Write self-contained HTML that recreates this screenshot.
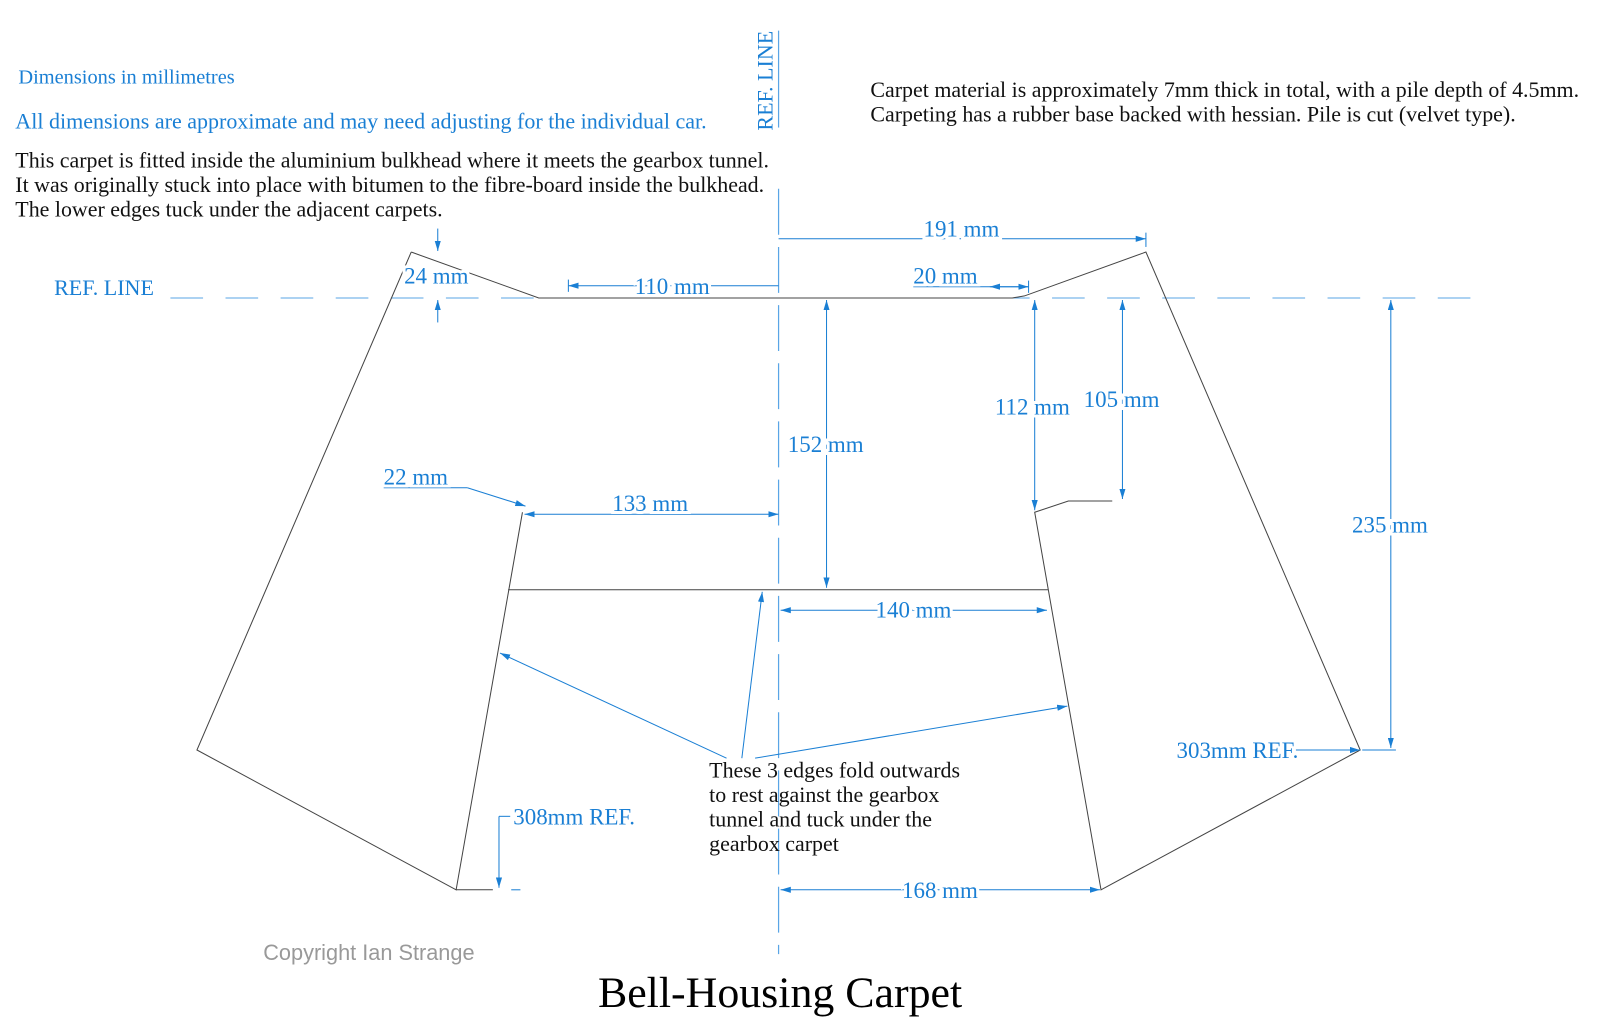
<!DOCTYPE html>
<html><head><meta charset="utf-8"><style>
body{margin:0;background:#fff;}
svg{display:block;}
text{font-family:"Liberation Serif",serif;}
.b{fill:#1a7fd4;font-size:21.6px;}
.d{fill:#1a7fd4;font-size:22.5px;stroke:#fff;stroke-width:6px;paint-order:stroke;}
.k{fill:#111;font-size:21.5px;}
</style></head><body>
<svg width="1600" height="1030" viewBox="0 0 1568 1009.4" xmlns="http://www.w3.org/2000/svg">
<defs>
<marker id="a" viewBox="0 0 10 6" refX="10" refY="3" markerWidth="10" markerHeight="6" orient="auto-start-reverse" markerUnits="userSpaceOnUse"><path d="M0,0 L10,3 L0,6z" fill="#1a7fd4"/></marker>
</defs>
<line x1="167" y1="292" x2="1450" y2="292" stroke="#5aa5e6" stroke-width="1" stroke-dasharray="32,22"/>
<line x1="763" y1="185" x2="763" y2="935" stroke="#5aa5e6" stroke-width="1.2" stroke-dasharray="45,12"/>
<line x1="763" y1="30" x2="763" y2="125" stroke="#5aa5e6" stroke-width="1.2"/>
<g fill="none" stroke="#444" stroke-width="1">
<path d="M403,247 L528,292 L992,292 L1004,290 L1123,247 L1333,735 L1079,872 L1014,502 L1047,491 L1090,491"/>
<path d="M403,247 L193,735 L447,872 L512,502"/>
<line x1="498" y1="578" x2="1027" y2="578"/>
<line x1="447" y1="872" x2="483" y2="872"/>
</g>
<g stroke="#1a7fd4" stroke-width="1" fill="none">
<line x1="429" y1="224" x2="429" y2="246" marker-end="url(#a)"/>
<line x1="429" y1="316" x2="429" y2="294" marker-end="url(#a)"/>
<line x1="557" y1="274" x2="557" y2="286"/>
<line x1="763" y1="280" x2="557" y2="280" marker-end="url(#a)"/>
<line x1="763" y1="234" x2="1123" y2="234" marker-end="url(#a)"/>
<line x1="1123" y1="228" x2="1123" y2="242"/>
<line x1="895" y1="281" x2="1008" y2="281"/>
<line x1="970" y1="281" x2="990" y2="281" marker-start="url(#a)"/>
<line x1="990" y1="281" x2="1008" y2="281" marker-end="url(#a)"/>
<line x1="1008" y1="275" x2="1008" y2="287"/>
<line x1="810" y1="294" x2="810" y2="576" marker-start="url(#a)" marker-end="url(#a)"/>
<line x1="1014" y1="294" x2="1014" y2="500" marker-start="url(#a)" marker-end="url(#a)"/>
<line x1="1100" y1="294" x2="1100" y2="489" marker-start="url(#a)" marker-end="url(#a)"/>
<line x1="1363" y1="294" x2="1363" y2="733" marker-start="url(#a)" marker-end="url(#a)"/>
<line x1="1335" y1="735" x2="1368" y2="735"/>
<line x1="1270" y1="735" x2="1333" y2="735" marker-end="url(#a)"/>
<line x1="376" y1="478" x2="458" y2="478"/>
<line x1="458" y1="478" x2="515" y2="496" marker-end="url(#a)"/>
<line x1="514" y1="504" x2="763" y2="504" marker-start="url(#a)" marker-end="url(#a)"/>
<line x1="765" y1="598" x2="1026" y2="598" marker-start="url(#a)" marker-end="url(#a)"/>
<line x1="765" y1="872" x2="1078" y2="872" marker-start="url(#a)" marker-end="url(#a)"/>
<line x1="500" y1="800" x2="489" y2="800"/>
<line x1="489" y1="800" x2="489" y2="870" marker-end="url(#a)"/>
<line x1="501" y1="872" x2="510" y2="872"/>
<line x1="712" y1="743" x2="490" y2="640" marker-end="url(#a)"/>
<line x1="727" y1="743" x2="747" y2="580" marker-end="url(#a)"/>
<line x1="740" y1="743" x2="1046" y2="692" marker-end="url(#a)"/>
</g>
<g class="b">
<text x="18" y="82" style="font-size:20px">Dimensions in millimetres</text>
<text x="15" y="126">All dimensions are approximate and may need adjusting for the individual car.</text>
<text x="53" y="289">REF. LINE</text>
<text transform="translate(757,128) rotate(-90)">REF. LINE</text>
</g>
<g class="d">
<text x="396" y="278">24 mm</text>
<text x="622" y="288">110 mm</text>
<text x="905" y="232">191 mm</text>
<text x="895" y="278">20 mm</text>
<text x="772" y="443">152 mm</text>
<text x="975" y="406">112 mm</text>
<text x="1062" y="399">105 mm</text>
<text x="1325" y="522">235 mm</text>
<text x="376" y="475">22 mm</text>
<text x="600" y="501">133 mm</text>
<text x="858" y="605">140 mm</text>
<text x="1153" y="743">303mm REF.</text>
<text x="503" y="808">308mm REF.</text>
<text x="884" y="880">168 mm</text>
</g>
<g class="k">
<text x="15" y="164">This carpet is fitted inside the aluminium bulkhead where it meets the gearbox tunnel.</text>
<text x="15" y="188">It was originally stuck into place with bitumen to the fibre-board inside the bulkhead.</text>
<text x="15" y="212">The lower edges tuck under  the adjacent carpets.</text>
<text x="853" y="95">Carpet material is approximately 7mm thick in total, with a pile depth of 4.5mm.</text>
<text x="853" y="119">Carpeting has a rubber base backed with hessian. Pile is cut (velvet type).</text>
<text x="695" y="762">These 3 edges fold outwards</text>
<text x="695" y="786">to rest against the gearbox</text>
<text x="695" y="810">tunnel and tuck under the</text>
<text x="695" y="834">gearbox carpet</text>
</g>
<text x="258" y="941" style="font-family:'Liberation Sans',sans-serif;font-size:21.3px;fill:#999">Copyright Ian Strange</text>
<text x="586" y="987" style="font-size:43px;fill:#000">Bell-Housing Carpet</text>
</svg>
</body></html>
